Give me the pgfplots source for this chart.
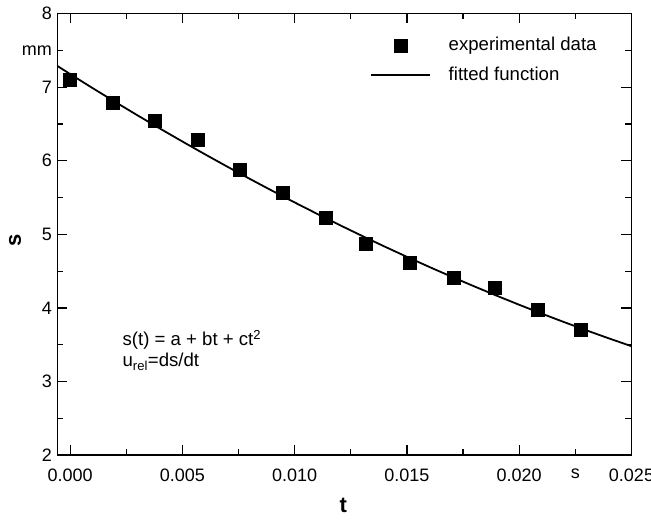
\documentclass[border=0pt]{standalone}
\usepackage{fontspec}
\setmainfont{Liberation Sans}
\usepackage{pgfplots}
\pgfplotsset{compat=1.18}
\pgfplotsset{
  squarelegend/.style={legend image code/.code={\draw[##1] plot coordinates {(29.5pt,0pt)};}},
  linelegend/.style={legend image code/.code={\draw[##1] (0pt,0pt) -- (59pt,0pt);}},
}
\begin{document}
\begin{tikzpicture}
\begin{axis}[
  scale only axis, width=574pt, height=441.5pt,
  xmin=-0.00057, xmax=0.025, ymin=2, ymax=8,
  axis line style={line width=1.3pt},
  xtick={0,0.005,0.01,0.015,0.02,0.025},
  xticklabels={0.000,0.005,0.010,0.015,0.020,0.025},
  minor x tick num=1,
  ytick={2,3,4,5,6,7,8}, minor y tick num=1,
  extra x ticks={0.0225}, extra x tick labels={s},
  extra y ticks={7.5}, extra y tick labels={mm},
  extra tick style={major tick length=6pt},
  tick align=inside, major tick length=10pt, minor tick length=6pt,
  tick style={line width=1.2pt, black},
  ticklabel style={font=\fontsize{18}{20}\selectfont},
  xticklabel style={yshift=-10pt},
  yticklabel style={xshift=-2pt},
  /pgf/number format/assume math mode=true,
  scaled x ticks=false,
  xlabel={\textbf{t}}, ylabel={\textbf{s}},
  every axis x label/.style={at={(rel axis cs:0.498,-0.113)}, anchor=center, font=\fontsize{22}{24}\selectfont},
  every axis y label/.style={at={(rel axis cs:-0.0737,0.487)}, anchor=center, rotate=90, font=\fontsize{22}{24}\selectfont},
  legend cell align=left,
  legend style={draw=none, fill=none, at={(rel axis cs:0.544,0.949)}, anchor=north west,
    font=\fontsize{18.6}{22}\selectfont, inner sep=0pt, row sep=12pt,
    /tikz/every odd column/.append style={column sep=18pt},
    nodes={inner sep=0pt, text height=14pt, text depth=4pt}},
]
\coordinate (bl) at (rel axis cs:0,0);
\coordinate (tr) at (rel axis cs:1,1);
\addplot[only marks, mark=square*, mark size=6.5pt, black, squarelegend]
coordinates {
(0.00000,7.10) (0.00191,6.79) (0.00377,6.55) (0.00567,6.28) (0.00753,5.88)
(0.00945,5.565) (0.01138,5.22) (0.01315,4.87) (0.01514,4.61) (0.01706,4.416)
(0.01892,4.28) (0.02083,3.98) (0.02272,3.71)
};
\addlegendentry{experimental data}
\addplot[black, line width=1.8pt, linelegend]
coordinates {
(-0.00057,7.2880) (0.000,7.1770) (0.001,6.9867) (0.002,6.7999) (0.003,6.6167)
(0.004,6.4370) (0.005,6.2608) (0.006,6.0882) (0.007,5.9191) (0.008,5.7535)
(0.009,5.5915) (0.010,5.4330) (0.011,5.2780) (0.012,5.1266) (0.013,4.9788)
(0.014,4.8344) (0.015,4.6936) (0.016,4.5563) (0.017,4.4226) (0.018,4.2924)
(0.019,4.1657) (0.020,4.0426) (0.021,3.9230) (0.022,3.8070) (0.023,3.6944)
(0.024,3.5854) (0.025,3.4800)
};
\addlegendentry{fitted function}
\node[anchor=west, font=\fontsize{18.6}{22}\selectfont] at (axis cs:0.00218,3.564) {s(t) = a + bt + ct\textsuperscript{2}};
\node[anchor=west, font=\fontsize{18.6}{22}\selectfont] at (axis cs:0.00218,3.265) {u\textsubscript{rel}=ds/dt};
\end{axis}
\pgfresetboundingbox
\path[use as bounding box] ([shift={(-57.3pt,-67pt)}]bl) rectangle ([shift={(19.5pt,13.5pt)}]tr);
\end{tikzpicture}
\end{document}
